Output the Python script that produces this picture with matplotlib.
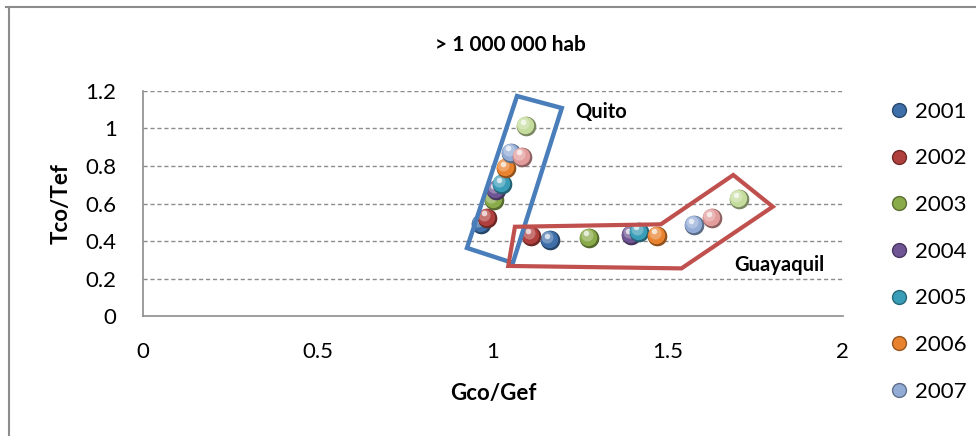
import numpy as np
import matplotlib

matplotlib.use("Agg")
import matplotlib.pyplot as plt
from matplotlib import transforms, colors as mcolors
from matplotlib.patches import Polygon
from matplotlib.lines import Line2D

plt.rcParams["font.family"] = ["Lato", "DejaVu Sans"]

# one series per year, each with a Quito point and a Guayaquil point
years = ["2001", "2002", "2003", "2004", "2005", "2006", "2007", "2008", "2009"]
quito_x = [0.965, 0.982, 1.003, 1.010, 1.025, 1.037, 1.053, 1.082, 1.094]
quito_y = [0.490, 0.524, 0.619, 0.670, 0.702, 0.788, 0.871, 0.850, 1.013]
guay_x = [1.163, 1.109, 1.275, 1.396, 1.418, 1.470, 1.575, 1.625, 1.702]
guay_y = [0.405, 0.427, 0.418, 0.432, 0.450, 0.427, 0.485, 0.521, 0.622]
series_colors = ["#3f6fa8", "#b0403d", "#8aab4a", "#6f5594", "#3a9db8",
                 "#e9822f", "#93acd6", "#e39c9c", "#c4dc9c"]
legend_years = years[:7]

# hand-drawn outlines around the two city groups
quito_box = [(1.069, 1.173), (1.197, 1.109), (1.057, 0.283), (0.926, 0.363)]
guay_box = [(1.063, 0.476), (1.480, 0.489), (1.687, 0.752), (1.800, 0.583),
            (1.539, 0.254), (1.044, 0.267)]


def shade(c, f):
    r, g, b = mcolors.to_rgb(c)
    if f < 1:
        return (r * f, g * f, b * f)
    f = f - 1
    return (r + (1 - r) * f, g + (1 - g) * f, b + (1 - b) * f)


def sphere(ax, x, y, color, s=200, z=3):
    fig = ax.figure
    off = lambda dx, dy: transforms.offset_copy(ax.transData, fig=fig, x=dx, y=dy, units="dots")
    ax.scatter(x, y, s=s, color=shade(color, 0.62), lw=0, zorder=z)
    ax.scatter(x, y, s=s * 0.78, color=color, lw=0, zorder=z + 0.01, transform=off(-1, 1))
    ax.scatter(x, y, s=s * 0.38, color=shade(color, 1.35), lw=0, zorder=z + 0.02,
               transform=off(-2.5, 3), alpha=0.8)
    ax.scatter(x, y, s=s * 0.08, color="white", lw=0, zorder=z + 0.03,
               transform=off(-3, 4.5), alpha=0.7)


fig = plt.figure(figsize=(9.76, 4.36), dpi=100)
ax = fig.add_axes([0.1465, 0.2752, 0.717, 0.5161])

for i, yr in enumerate(years):
    z = 3 + i * 0.1
    sphere(ax, quito_x[i], quito_y[i], series_colors[i], z=z)
    sphere(ax, guay_x[i], guay_y[i], series_colors[i], z=z)

ax.add_patch(Polygon(quito_box, closed=True, fill=False, edgecolor="#4a7ebb",
                     lw=3.2, zorder=5, joinstyle="miter"))
ax.add_patch(Polygon(guay_box, closed=True, fill=False, edgecolor="#c0504d",
                     lw=3.0, zorder=5, joinstyle="miter"))

ax.text(1.235, 1.09, "Quito", fontsize=14.5, fontweight="bold", ha="left", va="center")
ax.text(1.69, 0.27, "Guayaquil", fontsize=14.5, fontweight="bold", ha="left", va="center")

ax.set_xlim(0, 2)
ax.set_ylim(0, 1.2)
ax.set_xticks([0, 0.5, 1, 1.5, 2])
ax.set_xticklabels(["0", "0.5", "1", "1.5", "2"])
ax.set_yticks([0, 0.2, 0.4, 0.6, 0.8, 1.0, 1.2])
ax.set_yticklabels(["0", "0.2", "0.4", "0.6", "0.8", "1", "1.2"])
ax.tick_params(length=0, labelsize=16)
ax.tick_params(axis="x", pad=19)
ax.tick_params(axis="y", pad=19)
for yv in [0.2, 0.4, 0.6, 0.8, 1.0, 1.2]:
    ax.axhline(yv, color="#8c8c8c", lw=1, ls=(0, (3, 2)), zorder=1)
for side in ["top", "right"]:
    ax.spines[side].set_visible(False)
for side in ["left", "bottom"]:
    ax.spines[side].set_color("#8c8c8c")
    ax.spines[side].set_linewidth(1.2)

ax.set_xlabel("Gco/Gef", fontsize=16, fontweight="bold", labelpad=15)
ax.set_ylabel("Tco/Tef", fontsize=16, fontweight="bold", labelpad=10)

fig.text(0.523, 0.897, "> 1 000 000 hab", fontsize=15, fontweight="bold",
         ha="center", va="center")

handles = [Line2D([], [], ls="", marker="o", ms=10, color=series_colors[i],
                  markeredgecolor=shade(series_colors[i], 0.65), markeredgewidth=1)
           for i in range(len(legend_years))]
fig.legend(handles, legend_years, loc="upper left", bbox_to_anchor=(0.903, 0.792),
           frameon=False, fontsize=16, labelspacing=1.2, handlelength=0.6,
           handletextpad=0.4, borderpad=0)

# outer chart frame (clipped on the right and bottom)
fig.add_artist(Line2D([0.006, 1.0], [0.984, 0.984], color="#8c8c8c", lw=1.5))
fig.add_artist(Line2D([0.009, 0.009], [0.0, 0.984], color="#8c8c8c", lw=1.5))

fig.savefig("out.png", dpi=100)
